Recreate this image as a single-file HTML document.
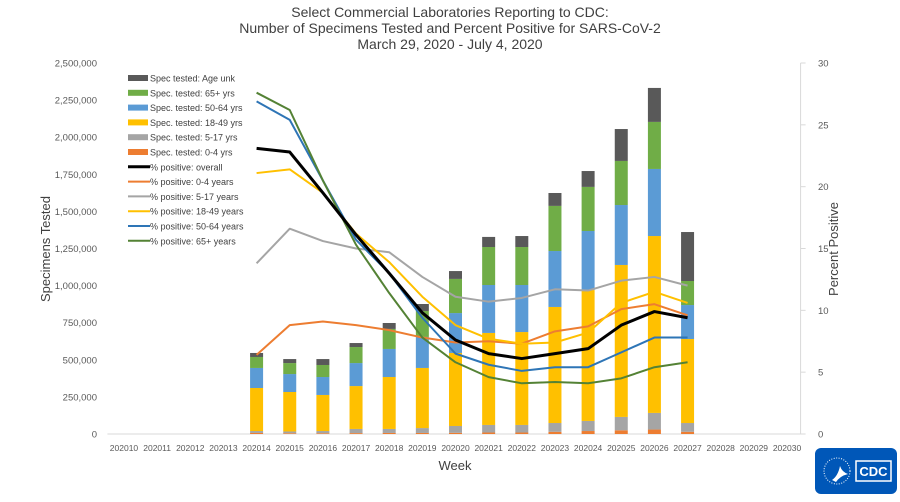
<!DOCTYPE html>
<html><head><meta charset="utf-8"><style>
body{margin:0;background:#fff;width:900px;height:497px;overflow:hidden;font-family:"Liberation Sans",sans-serif}
svg text{font-family:"Liberation Sans",sans-serif}
</style></head><body>
<svg id="chart" width="900" height="497">
<g id="titles" fill="#404040" font-size="14" text-anchor="middle">
<text x="450" y="17">Select Commercial Laboratories Reporting to CDC:</text>
<text x="450" y="33">Number of Specimens Tested and Percent Positive for SARS-CoV-2</text>
<text x="450" y="49">March 29, 2020 - July 4, 2020</text>
</g>
<text x="0" y="0" transform="translate(50,249) rotate(-90)" text-anchor="middle" font-size="13" fill="#404040">Specimens Tested</text>
<text x="0" y="0" transform="translate(838,249) rotate(-90)" text-anchor="middle" font-size="13" fill="#404040">Percent Positive</text>
<text x="455" y="470" text-anchor="middle" font-size="13" fill="#404040">Week</text>
<g id="axes"></g><g id="bars"></g><g id="lines"></g><g id="legend"></g>
<g>
<rect x="815" y="448" width="82" height="46" rx="6" fill="#0057b8"/>
<circle cx="837" cy="471" r="13" fill="none" stroke="#fff" stroke-width="1" stroke-dasharray="1 1.5"/>
<path d="M832 480 q6 -4 8 -14 q2 6 8 8 q-8 2 -12 8 z" fill="#fff"/>
<rect x="856" y="461" width="35" height="20" fill="none" stroke="#fff" stroke-width="1.5"/>
<text x="873.5" y="476" text-anchor="middle" font-size="13" font-weight="bold" fill="#fff" font-family="Liberation Serif">CDC</text>
</g>
</svg>
<script>
const weeks=["202010","202011","202012","202013","202014","202015","202016","202017","202018","202019","202020","202021","202022","202023","202024","202025","202026","202027","202028","202029","202030"];
const dataWeeks=["202014","202015","202016","202017","202018","202019","202020","202021","202022","202023","202024","202025","202026","202027"];
const spec04=[7,5,5,6,7,7,8,10,10,15,20,25,30,15];
const spec517=[13,12,15,28,27,33,46,51,51,59,68,90,112,59];
const spec1849=[290,266,243,289,350,405,492,620,626,782,882,1024,1192,566];
const spec5064=[135,121,121,155,189,209,269,323,317,377,398,404,452,229];
const spec65=[74,74,81,108,135,175,230,256,256,304,297,297,317,162];
const specUnk=[27,27,40,27,40,47,53,68,74,87,107,215,229,330];
const posOverall=[23.1,22.8,19.5,16.1,13.0,9.8,7.6,6.5,6.1,6.5,6.9,8.8,9.9,9.4];
const pos04=[6.4,8.8,9.1,8.8,8.4,7.8,7.4,7.5,7.3,8.3,8.7,10.1,10.5,9.6];
const pos517=[13.8,16.6,15.6,15.0,14.7,12.7,11.1,10.7,11.0,11.7,11.6,12.4,12.7,12.0];
const pos1849=[21.1,21.4,19.5,16.2,13.9,11.1,8.8,7.7,7.3,7.4,8.2,10.6,11.5,10.6];
const pos5064=[26.9,25.4,20.5,15.7,13.0,9.4,6.5,5.6,5.1,5.4,5.4,6.6,7.8,7.8];
const pos65=[27.6,26.2,20.5,15.3,11.4,7.8,5.8,4.6,4.1,4.2,4.1,4.5,5.4,5.8];
const leftTicks=[0,250000,500000,750000,1000000,1250000,1500000,1750000,2000000,2250000,2500000];
const rightTicks=[0,5,10,15,20,25,30];

const NS="http://www.w3.org/2000/svg";
const X0=107.4,X1=803.6,Y0=434,Y1=63;
const bw=(X1-X0)/weeks.length;
const xc=w=>X0+bw*(weeks.indexOf(w)+0.5);
const yL=v=>Y0-(v/2500000)*(Y0-Y1);
const yR=v=>Y0-(v/30)*(Y0-Y1);
function mk(tag,attrs,parent,txt){const e=document.createElementNS(NS,tag);for(const k in attrs)e.setAttribute(k,attrs[k]);if(txt!==undefined)e.textContent=txt;parent.appendChild(e);return e;}
const axes=document.getElementById('axes');
let e=mk('line',{x1:X0,x2:X1,y1:Y0,y2:Y0,stroke:'#d9d9d9'},axes);


leftTicks.forEach(t=>{const el=mk('text',{x:97,y:yL(t)+3.5,'text-anchor':'end','font-size':'9.5',fill:'#595959'},axes,t.toLocaleString('en-US'));

});
mk('line',{x1:X1-3,x2:X1-3,y1:Y1,y2:Y0,stroke:'#d9d9d9'},axes);
rightTicks.forEach(t=>{mk('line',{x1:X1-3,x2:X1+2,y1:yR(t),y2:yR(t),stroke:'#d9d9d9'},axes);
const el=mk('text',{x:818,y:yR(t)+3.5,'font-size':'9.5',fill:'#595959'},axes,String(t));

});
weeks.forEach(w=>{const el=mk('text',{x:xc(w),y:451,'text-anchor':'middle','font-size':'8.5',fill:'#595959'},axes,w);

});
const barSeries=[[spec04,'#ed7d31','0-4'],[spec517,'#a5a5a5','5-17'],[spec1849,'#ffc000','18-49'],[spec5064,'#5b9bd5','50-64'],[spec65,'#70ad47','65plus'],[specUnk,'#595959','age-unk']];
const bars=document.getElementById('bars');
dataWeeks.forEach((w,i)=>{let cum=0;barSeries.forEach(s=>{const v=s[0][i]*1000;const yt=yL(cum+v),yb=yL(cum);cum+=v;
const r=mk('rect',{x:xc(w)-6.5,y:yt,width:13,height:Math.max(0,yb-yt),fill:s[1]},bars);

});});
const lineSeries=[[pos517,'#a5a5a5',2,'5-17'],[pos04,'#ed7d31',2,'0-4'],[pos1849,'#ffc000',2,'18-49'],[pos5064,'#2e75b6',2,'50-64'],[pos65,'#548235',2,'65plus'],[posOverall,'#000',3,'overall']];
const lines=document.getElementById('lines');
lineSeries.forEach(s=>{const p=mk('polyline',{points:dataWeeks.map((w,i)=>xc(w)+','+yR(s[0][i])).join(' '),fill:'none',stroke:s[1],'stroke-width':s[2],'stroke-linejoin':'round'},lines);

});
const legendItems=[['Spec tested: Age unk','#595959','box'],['Spec. tested: 65+ yrs','#70ad47','box'],['Spec. tested: 50-64 yrs','#5b9bd5','box'],['Spec. tested: 18-49 yrs','#ffc000','box'],['Spec. tested: 5-17 yrs','#a5a5a5','box'],['Spec. tested: 0-4 yrs','#ed7d31','box'],['% positive: overall','#000','line3'],['% positive: 0-4 years','#ed7d31','line'],['% positive: 5-17 years','#a5a5a5','line'],['% positive: 18-49 years','#ffc000','line'],['% positive: 50-64 years','#2e75b6','line'],['% positive: 65+ years','#548235','line']];
const lg=document.getElementById('legend');
legendItems.forEach((it,i)=>{const y=78+i*14.8;const g=mk('g',{},lg);


if(it[2]==='box')mk('rect',{x:128,y:y-3,width:20,height:6,fill:it[1]},g);
else mk('line',{x1:128,x2:150,y1:y,y2:y,stroke:it[1],'stroke-width':it[2]==='line3'?3:2},g);
mk('text',{x:150,y:y+3.5,'font-size':'9','fill':'#404040'},g,it[0]);});
</script>
</body></html>
